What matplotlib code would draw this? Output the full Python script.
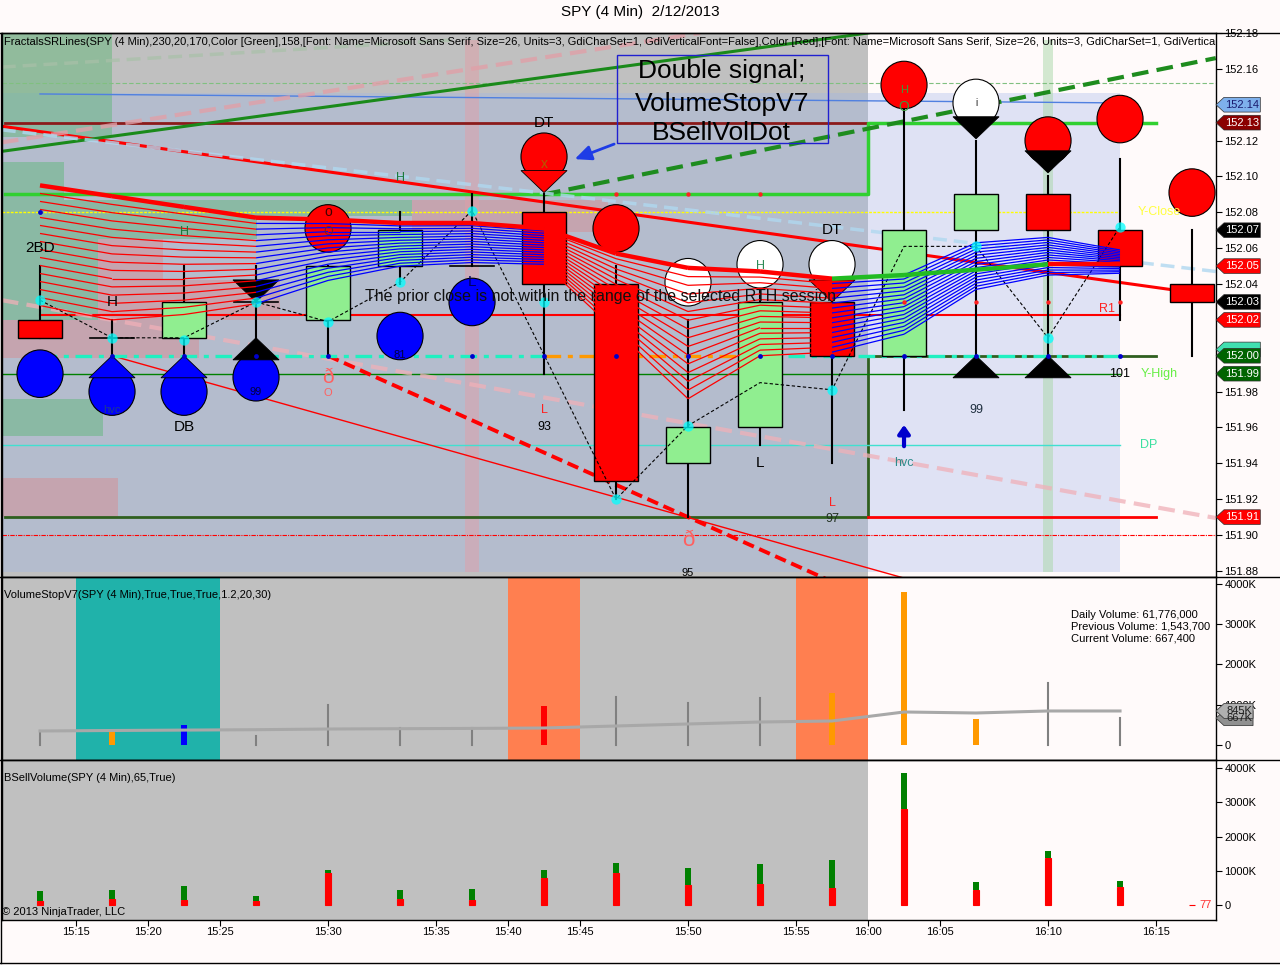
import matplotlib
matplotlib.use('Agg')
import matplotlib.pyplot as plt
import matplotlib.transforms as mtransforms
from matplotlib.patches import Rectangle, Ellipse, Polygon
from matplotlib.collections import LineCollection
from matplotlib.lines import Line2D

plt.rcParams['font.family'] = ['Liberation Sans', 'DejaVu Sans']

# ---------------- data ----------------
bars = list(range(17))
opens  = [152.02, 152.01, 152.01, 152.03, 152.02, 152.05, 152.05, 152.08, 152.04, 151.94, 151.96, 152.03, 152.00, 152.07, 152.09, 152.07, 152.04]
highs  = [152.05, 152.02, 152.05, 152.05, 152.05, 152.08, 152.09, 152.09, 152.05, 152.02, 152.04, 152.03, 152.14, 152.12, 152.10, 152.11, 152.07]
lows   = [152.01, 152.00, 152.00, 152.01, 152.00, 152.04, 152.05, 151.99, 151.92, 151.91, 151.95, 151.94, 151.97, 152.00, 152.00, 152.02, 152.00]
closes = [152.01, 152.01, 152.03, 152.03, 152.05, 152.07, 152.05, 152.04, 151.93, 151.96, 152.03, 152.00, 152.07, 152.09, 152.07, 152.05, 152.03]

tick_pos    = [0.5, 1.5, 2.5, 4.0, 5.5, 6.5, 7.5, 9.0, 10.5, 11.5, 12.5, 14.0, 15.5]
tick_labels = ['15:15', '15:20', '15:25', '15:30', '15:35', '15:40', '15:45',
               '15:50', '15:55', '16:00', '16:05', '16:10', '16:15']
price_ticks = [152.18, 152.16, 152.14, 152.12, 152.10, 152.08, 152.06, 152.04,
               152.02, 152.00, 151.98, 151.96, 151.94, 151.92, 151.90, 151.88]
# labels hidden under value tags in the reference are left blank
price_tick_labels = ['152.18', '152.16', '', '152.12', '152.10', '152.08', '152.06', '152.04',
                     '152.02', '', '151.98', '151.96', '151.94', '151.92', '151.90', '151.88']
vol_ticks = [0, 1000, 2000, 3000, 4000]
vol_tick_labels = ['0', '1000K', '2000K', '3000K', '4000K']

session_end = 11.5

# volume stop panel (K shares)
vol_k = [350, 330, 500, 220, 1000, 420, 420, 960, 1180, 1050, 1170, 1290, 3800, 640, 1544, 667]
vol_colors = ['#808080', '#FF9900', '#0000FF', '#808080', '#808080', '#808080', '#808080', '#FF0000',
              '#808080', '#808080', '#808080', '#FF9900', '#FF9900', '#FF9900', '#808080', '#808080']
vol_avg_k = [348, 360, 370, 380, 397, 405, 412, 422, 472, 522, 571, 596, 820, 795, 845, 845]
vol_span_x0 = [0.5, 6.5, 10.5]
vol_span_x1 = [2.5, 7.5, 11.5]
vol_span_colors = ['#20B2AA', '#FF7F50', '#FF7F50']

# buy/sell volume panel (K shares)
bsell_k = [120, 180, 150, 120, 930, 180, 150, 790, 930, 580, 610, 500, 2800, 440, 1370, 520, 0.077]
bbuy_k  = [290, 260, 400, 140, 90, 260, 320, 230, 290, 500, 590, 810, 1050, 230, 210, 180, 0]

# moving-average ribbon
ma_thick = [152.095, 152.089, 152.083, 152.077, 152.076, 152.074, 152.074, 152.071,
            152.057, 152.049, 152.047, 152.043, 152.045, 152.048, 152.051, 152.051]
ma_seg_colors = ['#FF0000'] * 11 + ['#22BB22'] * 3 + ['#FF0000']
ribbon_top = [152.095, 152.089, 152.083, 152.077, 152.076, 152.074, 152.074, 152.071,
              152.057, 152.049, 152.047, 152.043, 152.045, 152.063, 152.066, 152.059]
ribbon_bottom = [152.028, 152.020, 152.023, 152.029, 152.042, 152.050, 152.052, 152.051,
                 152.014, 151.976, 152.000, 152.002, 152.012, 152.037, 152.045, 152.046]
ribbon_seg_colors = ['#FF0000'] * 3 + ['#0000FF'] * 4 + ['#FF0000'] * 4 + ['#0000FF'] * 4
ribbon_count = 16

# signal circles
circ_x = [0, 1, 2, 3, 4, 5, 6, 7, 8, 9, 10, 11, 12, 13, 14, 15, 16]
circ_p = [151.990, 151.980, 151.980, 151.988, 152.071, 152.011, 152.030, 152.111, 152.071,
          152.041, 152.051, 152.051, 152.151, 152.141, 152.120, 152.132, 152.091]
circ_c = ['#0000FF', '#0000FF', '#0000FF', '#0000FF', '#FF0000', '#0000FF', '#0000FF', '#FF0000', '#FF0000',
          '#FFFFFF', '#FFFFFF', '#FFFFFF', '#FF0000', '#FFFFFF', '#FF0000', '#FF0000', '#FF0000']
# signal triangles (apex price, +1 up / -1 down)
tri_x = [1, 2, 3, 13, 14, 3, 7, 11, 13, 14]
tri_p = [152.000, 152.000, 152.010, 152.000, 152.000, 152.030, 152.091, 152.030, 152.121, 152.102]
tri_dir = [1, 1, 1, 1, 1, -1, -1, -1, -1, -1]
tri_c = ['#0000FF', '#0000FF', '#000000', '#000000', '#000000', '#000000', '#FF0000', '#FF0000', '#000000', '#000000']

# swing points
swing_x = [0, 1, 2, 3, 4, 5, 6, 7, 8, 9, 11, 13, 14, 15]
swing_p = [152.031, 152.010, 152.009, 152.030, 152.019, 152.041, 152.081, 152.030, 151.920, 151.961,
           151.981, 152.061, 152.010, 152.072]
zig_x = [0, 1, 2, 3, 4, 5, 6, 8, 9, 10, 11, 12, 13, 14, 15]
zig_p = [152.031, 152.010, 152.010, 152.030, 152.019, 152.041, 152.081, 151.920, 151.961, 151.985,
         151.981, 152.061, 152.061, 152.010, 152.072]
bdot_x = [0, 1, 2, 3, 4, 6, 7, 8, 9, 10, 11, 12, 13, 14, 15]
bdot_p = [152.080, 152.0, 152.0, 152.0, 152.0, 152.0, 152.0, 152.0, 152.0, 152.0, 152.0, 152.0, 152.0, 152.0, 152.0]
rdot_x = [8, 9, 10, 12, 13, 14, 15]
rdot_p = [152.09, 152.09, 152.09, 152.03, 152.03, 152.03, 152.03]

# shaded zones
zone_x0 = [-0.53, -0.53, 0.33, 3.01, 0.33, -0.53, 0.81, 1.71, -0.53, -0.53, 5.17]
zone_x1 = [1.00, 0.33, 3.01, 5.17, 0.81, 0.875, 1.71, 3.33, 2.21, 1.08, 7.89]
zone_lo = [152.122, 152.020, 152.065, 152.078, 152.020, 151.955, 152.020, 152.020, 151.999, 151.910, 152.069]
zone_hi = [152.180, 152.108, 152.087, 152.087, 152.065, 151.976, 152.065, 152.042, 152.020, 151.932, 152.087]
zone_kind = ['g', 'g', 'g', 'g', 'g', 'g', 'p', 'p', 'p', 'p', 'p']
vband_x = [6.0, 14.0]
vband_w = [0.19, 0.14]
vband_c = ['#E0A0A8', '#A8D8A8']

# horizontal / step level lines
lvl_x = [[-0.49, 11.5], [-0.49, 11.5, 11.5, 15.5], [-0.49, 11.5, 11.5, 15.5], [11.5, 15.5],
         [0, 15], [-0.53, 15], [-0.53, 15], [-0.53, 15], [-0.53, 16.4], [-0.53, 16.4], [0, 15]]
lvl_p = [[152.13, 152.13], [152.09, 152.09, 152.13, 152.13], [151.91, 151.91, 152.00, 152.00],
         [151.91, 151.91], [152.023, 152.023], [151.99, 151.99], [152.08, 152.08], [151.95, 151.95],
         [151.90, 151.90], [152.152, 152.152], [152.146, 152.141]]
lvl_c = ['#8B1A1A', '#30D030', '#2F5F1F', '#FF0000', '#FF0000', '#008000', '#FFFF00', '#40E0D0',
         '#FF0000', '#80C080', '#5080E0']
lvl_lw = [2.0, 2.5, 2.0, 2.0, 1.5, 1.0, 1.0, 1.0, 0.8, 0.8, 1.0]
lvl_ls = ['-', '-', '-', '-', '-', '-', (0, (2, 1)), '-', (0, (4, 1, 1, 1)), (0, (4, 2)), '-']

# trend lines (x0, p0, x1, p1)
tl_x0 = [-0.53, -0.53, 7.0, -0.53, -0.53, -0.53, -0.53, 1.0, 4.0]
tl_p0 = [152.128, 152.114, 152.090, 152.119, 152.161, 152.126, 152.031, 152.000, 152.000]
tl_x1 = [15.69, 11.5, 16.33, 9.17, 5.7, 16.33, 16.33, 12.0, 11.0]
tl_p1 = [152.037, 152.180, 152.166, 152.180, 152.176, 152.047, 151.9095, 151.876, 151.874]
tl_c = ['#FF0000', '#1A8A1A', '#1E8C1E', '#E0A0A8', '#A8C0A8', '#B0D8F0', '#F0B0B8', '#FF0000', '#FF0000']
tl_lw = [2.2, 2.2, 3.0, 3.0, 2.5, 2.5, 3.0, 1.0, 2.8]
tl_ls = ['-', '-', (0, (4, 2)), (0, (4, 2)), (0, (4, 2)), (0, (4, 2)), (0, (4, 2)), '-', (0, (3, 1.5))]
tl_alpha = [1, 1, 1, 0.8, 0.7, 0.8, 0.75, 1, 1]

# dash-dot 152.00 line segments
dd_x0 = [0, 7, 9.9]
dd_x1 = [7, 9.9, 15]
dd_c = ['#20F0C0', '#FF9900', '#20F0C0']

# right-axis tags
tag_p = [152.14, 152.13, 152.07, 152.05, 152.03, 152.02, 152.0035, 152.00, 151.99, 151.91]
tag_txt = ['152.14', '152.13', '152.07', '152.05', '152.03', '152.02', '', '152.00', '151.99', '151.91']
tag_bg = ['#7EB0EC', '#8B0000', '#000000', '#FF0000', '#000000', '#FF0000', '#40E0B0', '#006400', '#006400', '#FF0000']
tag_fg = ['#1A1A6E', 'white', 'white', 'white', 'white', 'white', 'white', 'white', 'white', 'white']
vtag_v = [667, 845]
vtag_txt = ['667K', '845K']
vtag_bg = ['#909090', '#B0B0B0']

# texts on price panel (x, price, text, color, size)
labels = [
    (0, 152.060, '2BD', 'black', 11), (1, 152.030, 'H', 'black', 11), (2, 152.069, 'H', '#1E7A3C', 9),
    (5, 152.099, 'H', '#1E7A3C', 9), (2, 151.960, 'DB', 'black', 11), (1, 151.970, 'hvc', '#1E3C8C', 8),
    (4, 152.080, 'o', '#400000', 10), (4, 152.069, 'O', '#7A2020', 9), (3, 151.980, '99', '#000040', 8),
    (5, 152.0004, '81', '#000040', 8), (6, 152.041, 'L', '#000060', 11), (7, 152.130, 'DT', 'black', 11),
    (7, 151.970, 'L', '#FF2020', 9), (7, 151.960, '93', 'black', 9), (4, 151.988, 'ð', '#FF6060', 15),
    (4, 151.979, 'O', '#FF6060', 8), (9, 151.897, 'ð', '#FF6060', 16), (9, 151.879, '95', 'black', 8),
    (10, 151.940, 'L', 'black', 11), (11, 152.070, 'DT', 'black', 11), (11, 151.918, 'L', '#FF2020', 9),
    (11, 151.909, '97', '#203020', 9), (12, 151.940, 'hvc', '#2E8B8B', 9), (13, 151.970, '99', '#203040', 9),
    (15, 151.990, '101', 'black', 9), (10, 152.050, 'H', '#2E8B57', 9), (7, 152.107, 'x', '#B06000', 10),
    (12, 152.148, 'H', '#3C9C3C', 8), (12, 152.139, 'O', '#3C9C3C', 10), (13, 152.141, 'i', '#202020', 7),
    (15.55, 152.080, 'Y-Close', '#FFFF40', 9), (15.55, 151.99, 'Y-High', '#66EE44', 9),
    (15.4, 151.95, 'DP', '#3CE0A0', 9),
]

# ---------------- figure ----------------
W, H = 1280, 965
fig = plt.figure(figsize=(W / 100, H / 100), dpi=100, facecolor='#FFFAFA')


def fy(py):
    return 1 - py / H


L0, WD = 2 / W, 1214 / W
ax_p = fig.add_axes([L0, fy(577), WD, 544 / H])
ax_v = fig.add_axes([L0, fy(760), WD, 183 / H])
ax_b = fig.add_axes([L0, fy(920), WD, 160 / H])
XLIM = (-0.528, 16.333)
for ax in (ax_p, ax_v, ax_b):
    ax.set_xlim(*XLIM)
    ax.set_facecolor('#FFFAFA')
    ax.axvspan(XLIM[0], session_end, color='#C0C0C0', zorder=0, lw=0)
    for s in ax.spines.values():
        s.set_color('black')
        s.set_linewidth(1)
    ax.yaxis.tick_right()
    ax.tick_params(axis='y', length=4, width=0.8, labelsize=8, pad=2, colors='black')
    ax.set_xticks(tick_pos)
    ax.tick_params(axis='x', length=0, labelbottom=False)
ax_b.tick_params(axis='x', length=4, width=0.8, labelbottom=True, labelsize=8, pad=1)
ax_b.set_xticklabels(tick_labels)

# ---------------- price panel ----------------
ax = ax_p
ax.set_ylim(151.8766, 152.18)
ax.set_yticks(price_ticks)
ax.set_yticklabels(price_tick_labels)

ax.add_patch(Rectangle((XLIM[0], 151.8794), 15.0 - XLIM[0], 152.1465 - 151.8794,
                       facecolor='#9EB4E9', alpha=0.33, lw=0, zorder=0.5))
for x0, x1, lo, hi, k in zip(zone_x0, zone_x1, zone_lo, zone_hi, zone_kind):
    col = '#3CB45A' if k == 'g' else '#E67878'
    ax.add_patch(Rectangle((x0, lo), x1 - x0, hi - lo, facecolor=col, alpha=0.35, lw=0, zorder=0.7))
for x, w, c in zip(vband_x, vband_w, vband_c):
    ax.add_patch(Rectangle((x - w / 2, 151.8794), w, 152.176 - 151.8794, facecolor=c, alpha=0.5, lw=0, zorder=0.8))

for xs, ps, c, lw, ls in zip(lvl_x, lvl_p, lvl_c, lvl_lw, lvl_ls):
    ax.plot(xs, ps, color=c, lw=lw, ls=ls, zorder=2)
for x0, p0, x1, p1, c, lw, ls, a in zip(tl_x0, tl_p0, tl_x1, tl_p1, tl_c, tl_lw, tl_ls, tl_alpha):
    ax.plot([x0, x1], [p0, p1], color=c, lw=lw, ls=ls, alpha=a, zorder=2.2)
for x0, x1, c in zip(dd_x0, dd_x1, dd_c):
    ax.plot([x0, x1], [152.0, 152.0], color=c, lw=2.4, ls=(0, (5, 2, 1.5, 2)), zorder=2.3)

# candles
bw = 0.62
for i, o, h, l, c in zip(bars, opens, highs, lows, closes):
    ax.plot([i, i], [l, h], color='black', lw=1.5, zorder=3)
    if abs(c - o) < 1e-9:
        ax.plot([i - bw / 2, i + bw / 2], [o, o], color='black', lw=1.2, zorder=3.1)
    else:
        fc = '#90EE90' if c > o else '#FF0000'
        ax.add_patch(Rectangle((i - bw / 2, min(o, c)), bw, abs(c - o), facecolor=fc,
                               edgecolor='black', lw=1, zorder=3.1))

# zigzag
ax.plot(zig_x, zig_p, color='black', lw=0.8, ls=(0, (3, 2)), zorder=3.3)

# signal circles & triangles
cw, ch = 0.64, 0.0265
for x, p, c in zip(circ_x, circ_p, circ_c):
    ax.add_patch(Ellipse((x, p), cw, ch, facecolor=c, edgecolor='black', lw=0.8, zorder=4))
th = 0.0123
for x, p, d, c in zip(tri_x, tri_p, tri_dir, tri_c):
    base = p - th if d > 0 else p + th
    ax.add_patch(Polygon([(x - 0.32, base), (x + 0.32, base), (x, p)], closed=True,
                         facecolor=c, edgecolor='black', lw=0.6, zorder=4.2))

# ribbon
segs, cols = [], []
for k in range(ribbon_count):
    f = k / (ribbon_count - 1)
    vals = [t + (b - t) * f for t, b in zip(ribbon_top, ribbon_bottom)]
    for i in range(len(vals) - 1):
        segs.append([(i, vals[i]), (i + 1, vals[i + 1])])
        cols.append(ribbon_seg_colors[i])
ax.add_collection(LineCollection(segs, colors=cols, linewidths=0.9, zorder=4.5))
for i in range(len(ma_thick) - 1):
    ax.plot([i, i + 1], [ma_thick[i], ma_thick[i + 1]], color=ma_seg_colors[i], lw=3.2,
            solid_capstyle='butt', zorder=4.6)

ax.scatter(swing_x, swing_p, s=55, color='#00FFFF', alpha=0.75, lw=0, zorder=4.8)
ax.scatter(bdot_x, bdot_p, s=12, color='#0000CC', lw=0, zorder=4.9)
ax.scatter(rdot_x, rdot_p, s=10, color='#FF2020', lw=0, zorder=4.9)

# blue hvc arrow
ax.annotate('', xy=(12, 151.963), xytext=(12, 151.948),
            arrowprops=dict(arrowstyle='-|>,head_width=0.35,head_length=0.5', color='#0000CC', lw=3),
            zorder=5)

for x, p, t, c, s in labels:
    ax.text(x, p, t, color=c, fontsize=s, ha='center', va='center', zorder=6)
ax.text(15.0 - 0.07, 152.026, 'R1', color='#FF2020', fontsize=9, ha='right', va='center', zorder=6)
ax.text(7.78, 152.033, 'The prior close is not within the range of the selected RTH session',
        fontsize=11.5, ha='center', va='center', color='#101010', zorder=6)

# Double signal box
ax.add_patch(Rectangle((8.01, 152.1186), 2.93, 152.1677 - 152.1186, facecolor='none',
                       edgecolor='#2020D0', lw=1, zorder=6))
ax.text(9.47, 152.159, 'Double signal;', fontsize=19, ha='center', va='center', zorder=6)
ax.text(9.47, 152.1405, 'VolumeStopV7', fontsize=19, ha='center', va='center', zorder=6)
ax.text(9.47, 152.1245, 'BSellVolDot', fontsize=19, ha='center', va='center', zorder=6)
ax.annotate('', xy=(7.39, 152.1091), xytext=(8.01, 152.1186),
            arrowprops=dict(arrowstyle='-|>,head_width=0.45,head_length=1.0', color='#1E3CE6', lw=2),
            zorder=6)

ax.text(0.002, 0.993, 'FractalsSRLines(SPY (4 Min),230,20,170,Color [Green],158,[Font: Name=Microsoft Sans Serif, '
        'Size=26, Units=3, GdiCharSet=1, GdiVerticalFont=False],Color [Red],[Font: Name=Microsoft Sans Serif, '
        'Size=26, Units=3, GdiCharSet=1, GdiVerticalFont=False]', transform=ax.transAxes, fontsize=8,
        ha='left', va='top', clip_on=True, zorder=7)

# tags
bt = mtransforms.blended_transform_factory(ax.transAxes, ax.transData)
hh = 0.0041
for p, t, bg, fg in zip(tag_p, tag_txt, tag_bg, tag_fg):
    ax.add_patch(Polygon([(1.0, p), (1.0066, p + hh), (1.0365, p + hh), (1.0365, p - hh), (1.0066, p - hh)],
                         closed=True, transform=bt, facecolor=bg, edgecolor='#303030', lw=0.5,
                         clip_on=False, zorder=10))
    if t:
        ax.text(1.0215, p, t, transform=bt, color=fg, fontsize=8, ha='center', va='center',
                clip_on=False, zorder=11)

# ---------------- volume stop panel ----------------
ax = ax_v
ax.set_ylim(-373, 4174)
ax.set_yticks(vol_ticks)
ax.set_yticklabels(vol_tick_labels)
for x0, x1, c in zip(vol_span_x0, vol_span_x1, vol_span_colors):
    ax.axvspan(x0, x1, color=c, lw=0, zorder=0.5)
for i, (v, c) in enumerate(zip(vol_k, vol_colors)):
    if c == '#808080':
        ax.plot([i, i], [0, v], color=c, lw=1.5, zorder=2)
    else:
        ax.bar(i, v, width=0.075, color=c, lw=0, zorder=2)
ax.plot(range(len(vol_avg_k)), vol_avg_k, color='#A8A8A8', lw=2.2, zorder=3)
ax.text(0.002, 0.90, 'VolumeStopV7(SPY (4 Min),True,True,True,1.2,20,30)', transform=ax.transAxes,
        fontsize=8, ha='left', va='center', zorder=5)
for yv, t in zip([3230, 2932, 2634], ['Daily Volume: 61,776,000', 'Previous Volume: 1,543,700',
                                      'Current Volume: 667,400']):
    ax.text(14.32, yv, t, fontsize=8, ha='left', va='center', zorder=5)
btv = mtransforms.blended_transform_factory(ax.transAxes, ax.transData)
hv = 185
for v, t, bg in zip(vtag_v, vtag_txt, vtag_bg):
    ax.add_patch(Polygon([(1.0, v), (1.0066, v + hv), (1.0305, v + hv), (1.0305, v - hv), (1.0066, v - hv)],
                         closed=True, transform=btv, facecolor=bg, edgecolor='#404040', lw=0.6,
                         clip_on=False, zorder=10))
    ax.text(1.019, v, t, transform=btv, color='#202020', fontsize=8, ha='center', va='center',
            clip_on=False, zorder=11)

# ---------------- buy/sell volume panel ----------------
ax = ax_b
ax.set_ylim(-438, 4234)
ax.set_yticks(vol_ticks)
ax.set_yticklabels(vol_tick_labels)
xs = list(range(len(bsell_k)))
ax.bar(xs, bsell_k, width=0.085, color='#FF0000', edgecolor='#FF0000', lw=0.8, zorder=2)
ax.bar(xs, bbuy_k, bottom=bsell_k, width=0.085, color='#008000', lw=0, zorder=2)
ax.text(16.1, 0, '77', color='#FF3030', fontsize=8, ha='left', va='center', zorder=5)
ax.text(0.002, 0.89, 'BSellVolume(SPY (4 Min),65,True)', transform=ax.transAxes,
        fontsize=8, ha='left', va='center', zorder=5)
ax.text(0.0, 0.05, '© 2013 NinjaTrader, LLC', transform=ax.transAxes,
        fontsize=8, ha='left', va='center', zorder=5)

# ---------------- frame & title ----------------
for py in (33, 577, 760, 963):
    fig.add_artist(Line2D([0, 1], [fy(py), fy(py)], color='black', lw=1, transform=fig.transFigure))
fig.add_artist(Line2D([0.0004, 0.0004], [fy(33), fy(963)], color='black', lw=1, transform=fig.transFigure))
fig.text(0.5, fy(12), 'SPY (4 Min)  2/12/2013', ha='center', va='center', fontsize=11)

fig.savefig('out.png', dpi=100, facecolor=fig.get_facecolor())
